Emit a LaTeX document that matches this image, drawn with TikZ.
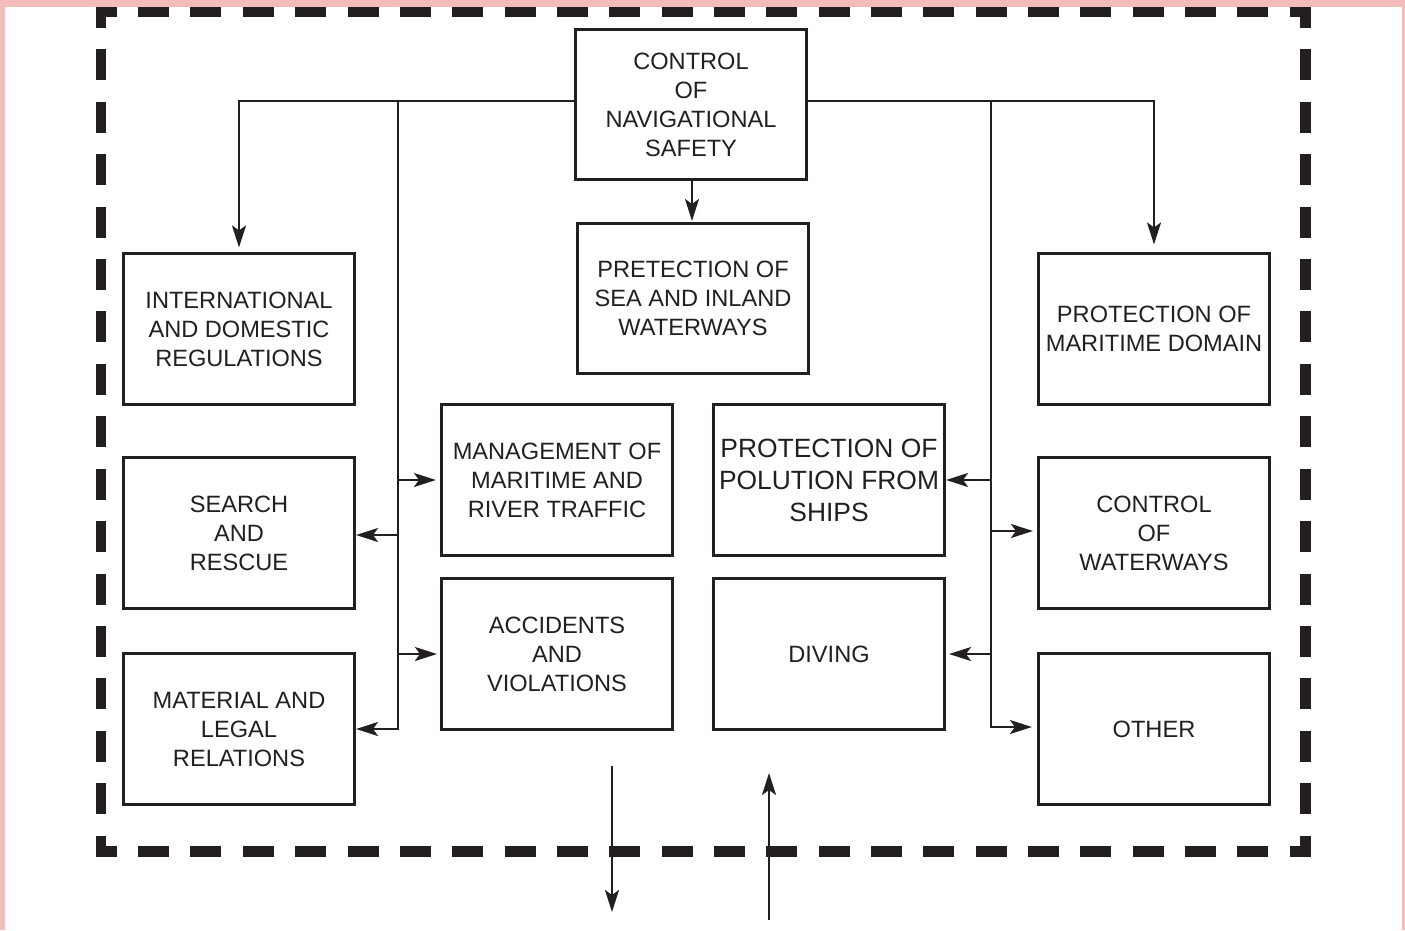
\documentclass[tikz,border=0pt]{standalone}
\usepackage{fontspec}
\setmainfont{Liberation Sans}
\usetikzlibrary{arrows.meta}
\definecolor{ink}{HTML}{231F20}
\definecolor{rim}{HTML}{F2BCBA}
\tikzset{
  box/.style={draw=ink, line width=2.7pt, minimum width=231.4pt, minimum height=150.4pt,
    align=center, inner sep=0pt, text=ink, font=\fontsize{23.6}{29}\selectfont},
  bigtext/.style={font=\fontsize{26.4}{32}\selectfont},
  wire/.style={draw=ink, line width=2.2pt},
  arr/.style={wire, -{Stealth[length=22pt,width=14pt,inset=5pt]}},
  frame/.style={draw=ink, line width=10.5pt},
}
\begin{document}
\begin{tikzpicture}[x=1pt,y=-1pt]
\useasboundingbox (0,0) rectangle (1405,930);
% page background with coloured rim
\fill[rim] (0,0) rectangle (1405,930);
\fill[white] (5,7) rectangle (1401.5,930);

% dashed outer frame, one side at a time so every corner is an L
\draw[frame, dash pattern=on 31pt off 21.35pt, dash phase=10pt] (95.75,12) -- (1310.75,12);
\draw[frame, dash pattern=on 31pt off 21.35pt, dash phase=10pt] (95.75,851.5) -- (1310.75,851.5);
\draw[frame, dash pattern=on 31pt off 21.44pt, dash phase=10pt] (101,6.75) -- (101,856.75);
\draw[frame, dash pattern=on 31pt off 21.44pt, dash phase=10pt] (1305.5,6.75) -- (1305.5,856.75);

% boxes
\node[box] (ctrl) at (691,104.5) {CONTROL\\OF\\NAVIGATIONAL\\SAFETY};
\node[box] (pret) at (693,298.5) {PRETECTION OF\\SEA AND INLAND\\WATERWAYS};
\node[box] (intl) at (239,329) {INTERNATIONAL\\AND DOMESTIC\\REGULATIONS};
\node[box] (dom)  at (1154,329) {PROTECTION OF\\MARITIME DOMAIN};
\node[box] (sar)  at (239,533) {SEARCH\\AND\\RESCUE};
\node[box] (mat)  at (239,729) {MATERIAL AND\\LEGAL\\RELATIONS};
\node[box] (mgmt) at (557,480) {MANAGEMENT OF\\MARITIME AND\\RIVER TRAFFIC};
\node[box] (acc)  at (557,654) {ACCIDENTS\\AND\\VIOLATIONS};
\node[box,bigtext] (pol) at (829,480) {PROTECTION OF\\POLUTION FROM\\SHIPS};
\node[box] (div)  at (829,654) {DIVING};
\node[box] (cow)  at (1154,533) {CONTROL\\OF\\WATERWAYS};
\node[box] (oth)  at (1154,729) {OTHER};

% junction points on the distribution lines
\coordinate (lj)   at (239,101);
\coordinate (lbus) at (398,101);
\coordinate (rbus) at (991,101);
\coordinate (rj)   at (1154,101);

% top distribution
\draw[arr, shorten >=5pt] (ctrl.west |- lj) -- (lj) -- (intl.north);
\draw[arr, shorten >=8pt] (ctrl.east |- rj) -- (rj) -- (dom.north);
\draw[arr, shorten >=1pt] (ctrl.south -| 692,0) -- (pret.north -| 692,0);

% left bus
\draw[arr] (lbus) -- (lbus |- mat.east) -- (mat.east);
\draw[arr, shorten >=4pt] (lbus |- mgmt.west) -- (mgmt.west);
\draw[arr] ([yshift=-2pt]lbus |- sar.east) -- ([yshift=-2pt]sar.east);
\draw[arr, shorten >=3pt] (lbus |- acc.west) -- (acc.west);

% right bus
\draw[arr, shorten >=5pt] (rbus) -- ([yshift=2pt]rbus |- oth.west) -- ([yshift=2pt]oth.west);
\draw[arr] (rbus |- pol.east) -- (pol.east);
\draw[arr, shorten >=4pt] ([yshift=2pt]rbus |- cow.west) -- ([yshift=2pt]cow.west);
\draw[arr, shorten >=3pt] (rbus |- div.east) -- (div.east);

% flows crossing the frame
\coordinate (outS) at (612,766);
\coordinate (outE) at (612,912);
\coordinate (inS)  at (769,920);
\coordinate (inE)  at (769,773);
\draw[arr] (outS) -- (outE);
\draw[arr] (inS) -- (inE);
\end{tikzpicture}
\end{document}
